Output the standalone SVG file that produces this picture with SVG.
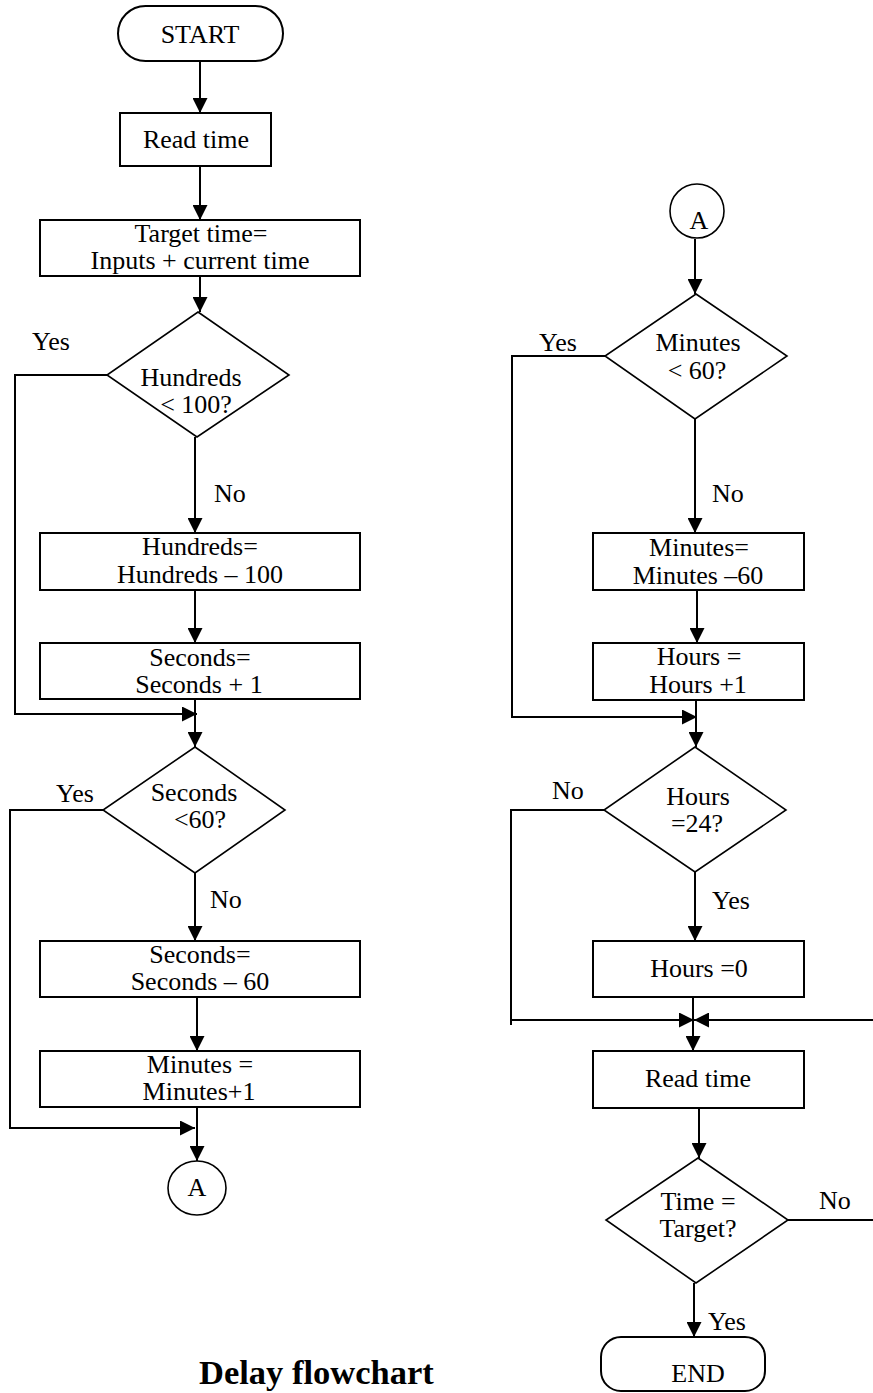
<svg xmlns="http://www.w3.org/2000/svg" width="873" height="1393" viewBox="0 0 873 1393">
<defs>
<style>
text{font-family:"Liberation Serif","Times New Roman",serif;font-size:26px;fill:#000}
.c{text-anchor:middle}
.box{fill:#fff;stroke:#000;stroke-width:2}
.dia{fill:#fff;stroke:#000;stroke-width:1.6}
.con{fill:none;stroke:#000;stroke-width:2}
.title{font-weight:bold;font-size:34.5px}
</style>
<marker id="ah" markerUnits="userSpaceOnUse" markerWidth="15" markerHeight="15" refX="15" refY="7.5" orient="auto">
<path d="M0,0 L15,7.5 L0,15 z" fill="#000"/>
</marker>
</defs>
<rect width="873" height="1393" fill="#fff"/>

<g id="connectors">
<path class="con" d="M200,61 V113" marker-end="url(#ah)"/>
<path class="con" d="M200,166 V220" marker-end="url(#ah)"/>
<path class="con" d="M200,272 V312" marker-end="url(#ah)"/>
<path class="con" d="M107,375 H15 V714 H197" marker-end="url(#ah)"/>
<path class="con" d="M195,437 V533" marker-end="url(#ah)"/>
<path class="con" d="M195,590 V643" marker-end="url(#ah)"/>
<path class="con" d="M195,695 V747" marker-end="url(#ah)"/>
<path class="con" d="M103,810 H10 V1128 H195" marker-end="url(#ah)"/>
<path class="con" d="M195,873 V941" marker-end="url(#ah)"/>
<path class="con" d="M197,997 V1051" marker-end="url(#ah)"/>
<path class="con" d="M197,1107 V1161" marker-end="url(#ah)"/>
<path class="con" d="M695,239 V294" marker-end="url(#ah)"/>
<path class="con" d="M605,356 H512 V717 H697" marker-end="url(#ah)"/>
<path class="con" d="M695,419 V533" marker-end="url(#ah)"/>
<path class="con" d="M697,590 V643" marker-end="url(#ah)"/>
<path class="con" d="M696,695 V747" marker-end="url(#ah)"/>
<path class="con" d="M604,810 H511 V1025 M511,1020 H694" marker-end="url(#ah)"/>
<path class="con" d="M695,872 V941" marker-end="url(#ah)"/>
<path class="con" d="M693,997 V1051" marker-end="url(#ah)"/>
<path class="con" d="M788,1220 H880 V1020 H694" marker-end="url(#ah)"/>
<path class="con" d="M699,1108 V1158" marker-end="url(#ah)"/>
<path class="con" d="M694,1283 V1337" marker-end="url(#ah)"/>
</g>

<g id="start">
<rect class="box" x="118" y="6" width="165" height="55" rx="27.5"/>
<text class="c" x="200" y="43">START</text>
</g>
<g id="read-time-1">
<rect class="box" x="120" y="113" width="151" height="53"/>
<text class="c" x="196" y="148">Read time</text>
</g>
<g id="target-time">
<rect class="box" x="40" y="220" width="320" height="56"/>
<text class="c" x="201" y="242">Target time=</text>
<text class="c" x="200" y="269">Inputs + current time</text>
</g>
<g id="hundreds-check">
<polygon class="dia" points="198,312 289,375 197,437 107,375"/>
<text class="c" x="191" y="386">Hundreds</text>
<text class="c" x="196" y="413">&lt; 100?</text>
</g>
<g id="hundreds-sub">
<rect class="box" x="40" y="533" width="320" height="57"/>
<text class="c" x="200" y="555">Hundreds=</text>
<text class="c" x="200" y="583">Hundreds – 100</text>
</g>
<g id="seconds-inc">
<rect class="box" x="40" y="643" width="320" height="56"/>
<text class="c" x="200" y="666">Seconds=</text>
<text class="c" x="199" y="693">Seconds + 1</text>
</g>
<g id="seconds-check">
<polygon class="dia" points="195,747 285,810 195,873 103,810"/>
<text class="c" x="194" y="801">Seconds</text>
<text class="c" x="200" y="828">&lt;60?</text>
</g>
<g id="seconds-sub">
<rect class="box" x="40" y="941" width="320" height="56"/>
<text class="c" x="200" y="963">Seconds=</text>
<text class="c" x="200" y="990">Seconds – 60</text>
</g>
<g id="minutes-inc">
<rect class="box" x="40" y="1051" width="320" height="56"/>
<text class="c" x="200" y="1073">Minutes =</text>
<text class="c" x="199" y="1100">Minutes+1</text>
</g>
<g id="connector-a-out">
<ellipse class="dia" cx="197" cy="1188" rx="29" ry="27"/>
<text class="c" x="197" y="1196">A</text>
</g>

<g id="connector-a-in">
<ellipse class="dia" cx="697" cy="211" rx="27" ry="27"/>
<text class="c" x="699" y="229">A</text>
</g>
<g id="minutes-check">
<polygon class="dia" points="696,294 787,356 695,419 605,356"/>
<text class="c" x="698" y="351">Minutes</text>
<text class="c" x="697" y="379">&lt; 60?</text>
</g>
<g id="minutes-sub">
<rect class="box" x="593" y="533" width="211" height="57"/>
<text class="c" x="699" y="556">Minutes=</text>
<text class="c" x="698" y="584">Minutes –60</text>
</g>
<g id="hours-inc">
<rect class="box" x="593" y="643" width="211" height="57"/>
<text class="c" x="699" y="665">Hours =</text>
<text class="c" x="698" y="693">Hours +1</text>
</g>
<g id="hours-check">
<polygon class="dia" points="695,747 786,810 695,872 604,810"/>
<text class="c" x="698" y="805">Hours</text>
<text class="c" x="697" y="832">=24?</text>
</g>
<g id="hours-reset">
<rect class="box" x="593" y="941" width="211" height="56"/>
<text class="c" x="699" y="977">Hours =0</text>
</g>
<g id="read-time-2">
<rect class="box" x="593" y="1051" width="211" height="57"/>
<text class="c" x="698" y="1087">Read time</text>
</g>
<g id="time-check">
<polygon class="dia" points="698,1158 788,1220 696,1283 606,1220"/>
<text class="c" x="698" y="1210">Time =</text>
<text class="c" x="698" y="1237">Target?</text>
</g>
<g id="end">
<rect class="box" x="601" y="1337" width="164" height="54" rx="20"/>
<text class="c" x="698" y="1382">END</text>
</g>

<g id="labels">
<text x="32" y="350">Yes</text>
<text x="214" y="502">No</text>
<text x="56" y="802">Yes</text>
<text x="210" y="908">No</text>
<text x="539" y="351">Yes</text>
<text x="712" y="502">No</text>
<text x="552" y="799">No</text>
<text x="712" y="909">Yes</text>
<text x="819" y="1209">No</text>
<text x="708" y="1330">Yes</text>
</g>
<text class="title" x="199" y="1384">Delay flowchart</text>
</svg>
